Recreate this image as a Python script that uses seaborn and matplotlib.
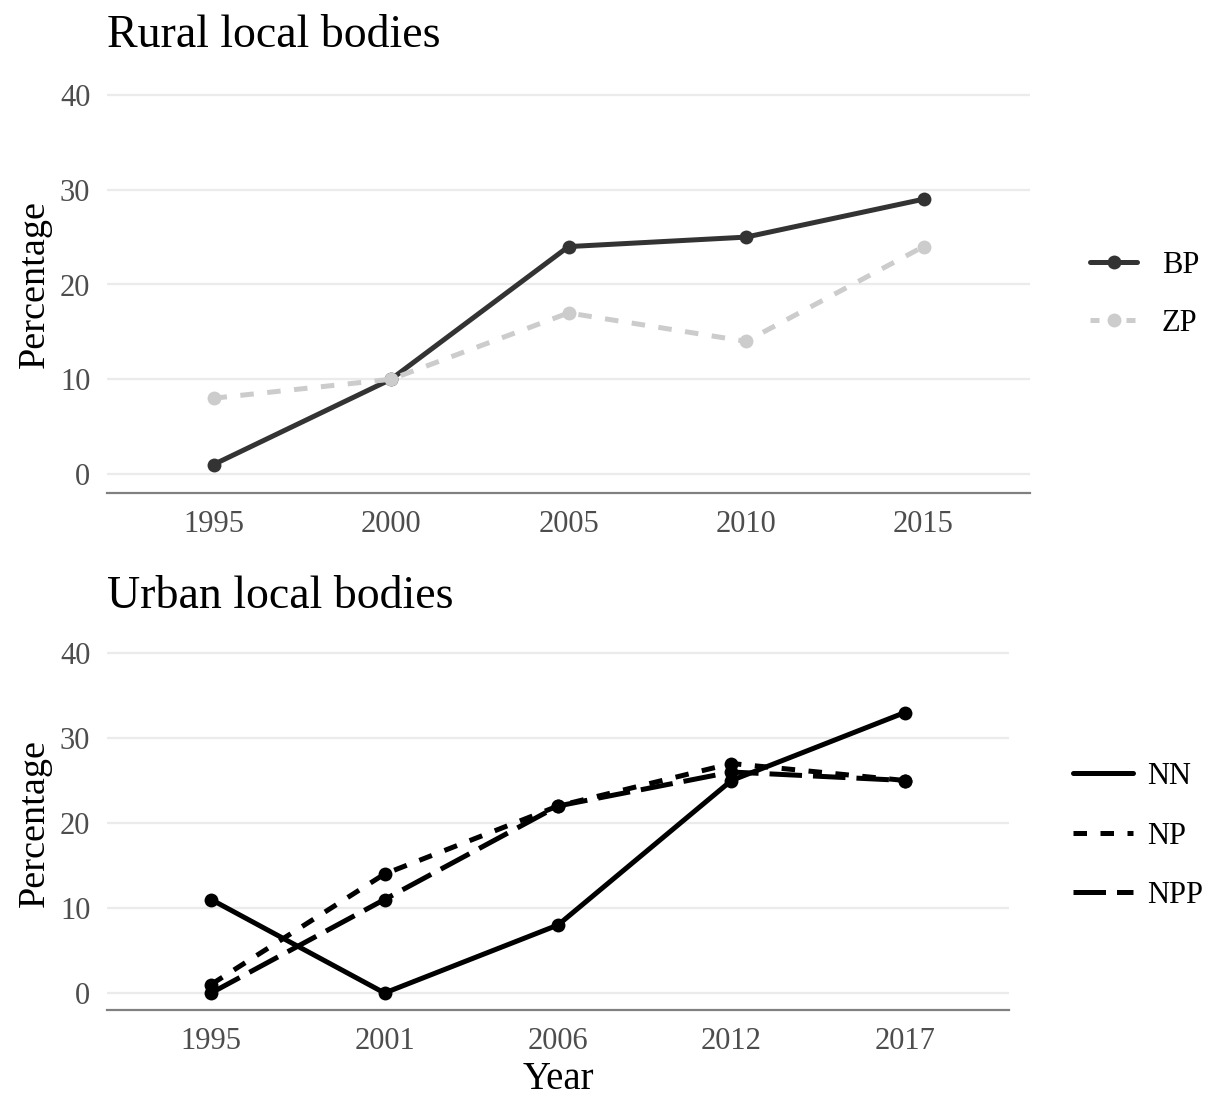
import pandas as pd
import numpy as np
import matplotlib.pyplot as plt
import seaborn as sns
from matplotlib.lines import Line2D

# Data
rural_years = ['1995', '2000', '2005', '2010', '2015']
bp_values = [1, 10, 24, 25, 29]
zp_values = [8, 10, 17, 14, 24]

urban_years = ['1995', '2001', '2006', '2012', '2017']
nn_values = [11, 0, 8, 25, 33]
np_values = [1, 14, 22, 27, 25]
npp_values = [0, 11, 22, 26, 25]

rural = pd.DataFrame({
    'Year': rural_years * 2,
    'Percentage': bp_values + zp_values,
    'Body': ['BP'] * 5 + ['ZP'] * 5,
})
urban = pd.DataFrame({
    'Year': urban_years * 3,
    'Percentage': nn_values + np_values + npp_values,
    'Body': ['NN'] * 5 + ['NP'] * 5 + ['NPP'] * 5,
})

sns.set_theme(style='white')
plt.rcParams['font.family'] = ['Liberation Serif', 'DejaVu Serif']
plt.rcParams['text.color'] = 'black'
plt.rcParams['axes.labelcolor'] = 'black'

fig = plt.figure(figsize=(12.07, 10.97), dpi=100)
ax1 = fig.add_axes([107 / 1207, 1 - 493 / 1097, 923 / 1207, 417 / 1097])
ax2 = fig.add_axes([107 / 1207, 1 - 1010 / 1097, 902 / 1207, 374 / 1097])

tick_col = '#4D4D4D'
lw = 3.6
ms = 10

# ----------------------------------------
# Rural local bodies
# ----------------------------------------
rural_colors = {'BP': '#333333', 'ZP': '#CCCCCC'}
sns.lineplot(data=rural, x='Year', y='Percentage', hue='Body', style='Body',
             palette=rural_colors, dashes={'BP': '', 'ZP': (2.7, 2.7)},
             markers={'BP': 'o', 'ZP': 'o'}, markersize=ms, markeredgewidth=0,
             linewidth=lw, legend=False, ax=ax1)

handles1 = [Line2D([], [], color=rural_colors[k], lw=lw, marker='o', markersize=ms,
                   markeredgewidth=0, linestyle='-' if k == 'BP' else (0, (1.8, 1.8)))
            for k in ['BP', 'ZP']]
ax1.legend(handles1, ['BP', 'ZP'], loc='center left', bbox_to_anchor=(1.065, 0.476),
           frameon=False, fontsize=22, handlelength=1.55, labelspacing=0.95,
           handletextpad=0.8, borderpad=0, borderaxespad=0)

# ----------------------------------------
# Urban local bodies
# ----------------------------------------
urban_colors = {'NN': 'black', 'NP': 'black', 'NPP': 'black'}
urban_dashes = {'NN': '', 'NP': (2.7, 2.7), 'NPP': (6.5, 2.2)}
sns.lineplot(data=urban, x='Year', y='Percentage', hue='Body', style='Body',
             palette=urban_colors, dashes=urban_dashes,
             markers={'NN': 'o', 'NP': 'o', 'NPP': 'o'}, markersize=ms,
             markeredgewidth=0, linewidth=lw, legend=False, ax=ax2)

handles2 = [Line2D([], [], color='black', lw=lw,
                   linestyle='-' if not urban_dashes[k] else (0, urban_dashes[k]))
            for k in ['NN', 'NP', 'NPP']]
ax2.legend(handles2, ['NN', 'NP', 'NPP'], loc='center left', bbox_to_anchor=(1.071, 0.465),
           frameon=False, fontsize=22, handlelength=1.97, labelspacing=1.0,
           handletextpad=0.46, borderpad=0, borderaxespad=0)

# Shared styling
for ax, title, xlabel in [(ax1, 'Rural local bodies', ''), (ax2, 'Urban local bodies', 'Year')]:
    ax.set_xlim(-0.6, 4.6)
    ax.set_ylim(-2, 42)
    ax.set_yticks([0, 10, 20, 30, 40])
    ax.grid(axis='y', color='#EBEBEB', linewidth=1.6)
    ax.grid(axis='x', visible=False)
    for side in ['top', 'right', 'left']:
        ax.spines[side].set_visible(False)
    ax.spines['bottom'].set_color('#808080')
    ax.spines['bottom'].set_linewidth(1.6)
    ax.tick_params(axis='both', length=0, labelsize=22, labelcolor=tick_col)
    ax.tick_params(axis='y', pad=12)
    ax.tick_params(axis='x', pad=12)
    ax.set_ylabel('Percentage', fontsize=27.5, labelpad=6)
    ax.set_xlabel(xlabel, fontsize=28, labelpad=4)

ax1.set_title('Rural local bodies', loc='left', fontsize=33, pad=21, color='black')
ax2.set_title('Urban local bodies', loc='left', fontsize=33, pad=20, color='black')

plt.savefig('out.png', dpi=100)
